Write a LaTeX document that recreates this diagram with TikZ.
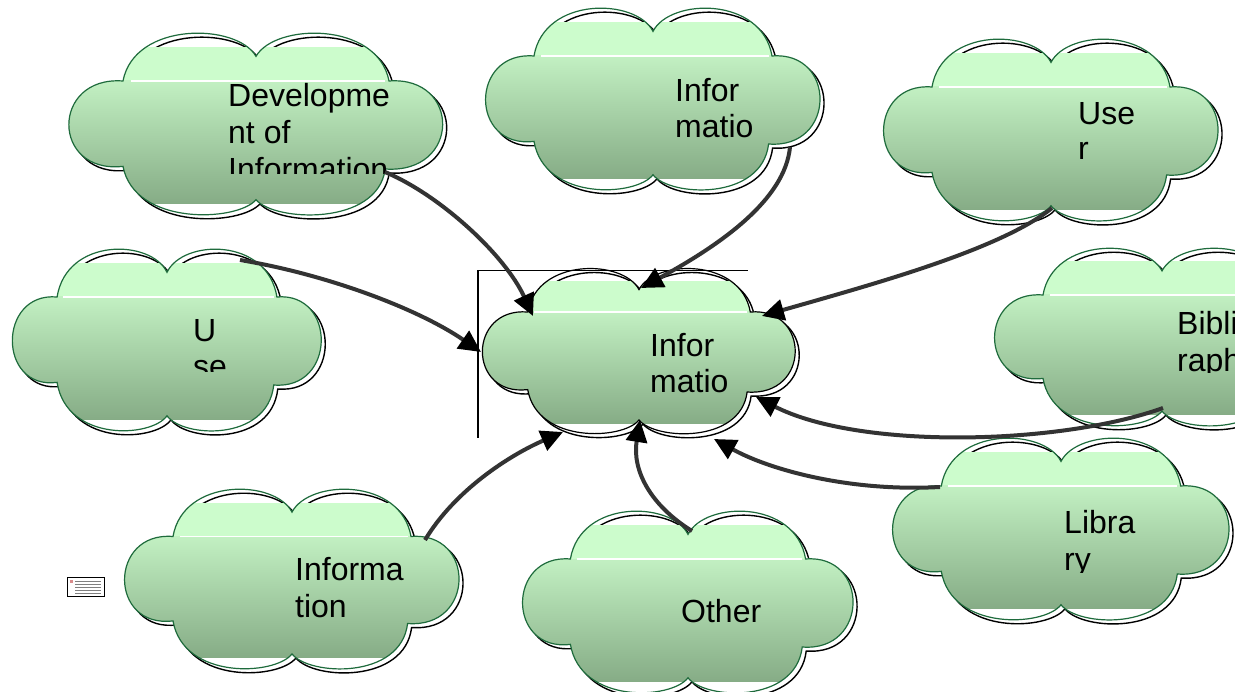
\documentclass[tikz,border=0pt]{standalone}
\usepackage{fontspec}
\setmainfont{Liberation Sans}
\usetikzlibrary{arrows.meta}
\definecolor{cgreen}{HTML}{1E6B3C}
\definecolor{ctop}{HTML}{CCFCCC}
\definecolor{cgtop}{HTML}{C2F0C2}
\definecolor{cgbot}{HTML}{86AC86}
\definecolor{agray}{HTML}{333333}
\newcommand\cloudpath{(0,-0.78) .. controls (0.1,-1.16) and (0.64,-1.18) .. (0.7,-0.5) .. controls (1.08,-0.56) and (1.08,0.56) .. (0.68,0.5) .. controls (0.64,1.15) and (0.1,1.1) .. (0,0.85) .. controls (-0.1,1.1) and (-0.64,1.15) .. (-0.7,0.47) .. controls (-1.08,0.56) and (-1.08,-0.56) .. (-0.7,-0.5) .. controls (-0.64,-1.18) and (-0.1,-1.16) .. (0,-0.78) -- cycle}
\newcommand\mkcloud[6]{%
  \coordinate (#1) at (#2,#3);
  \begin{scope}[shift={(#2+4,#3+4)},xscale=#4,yscale=#5]
    \draw[shadowline] \cloudpath;
  \end{scope}
  \begin{scope}[shift={(#2,#3)},xscale=#4,yscale=#5]
    \begin{scope}
      \clip \cloudpath;
      \fill[ctop] (-1.2,-0.89) rectangle (1.2,-0.5);
      \shade[top color=cgtop,bottom color=cgbot] (-1.2,-0.5) rectangle (1.2,0.89);
    \end{scope}
    \draw[white,line width=1.5pt] (-0.66,-0.5) -- (0.68,-0.5);
    \draw[cloudline,draw=#6] \cloudpath;
  \end{scope}}
\tikzset{
  shadowline/.style={black,line width=1.4pt},
  cloudline/.style={line width=1.2pt},
  lbl/.style={anchor=base west,inner sep=0pt,font=\fontsize{32}{37}\selectfont},
  conn/.style={draw=agray,line width=4pt,-{Triangle[length=22pt,width=21pt,color=black]}}
}
\begin{document}
\begin{tikzpicture}[x=1pt,y=-1pt]
\useasboundingbox (0,0) rectangle (1235,692);
\clip (0,0) rectangle (1235,692);
\fill[white] (0,0) rectangle (1235,692);

% clouds
\mkcloud{dev}{256}{125}{190}{88}{cgreen}
\mkcloud{topinfo}{653}{100}{170}{88}{cgreen}
\mkcloud{user}{1051}{131}{170}{88}{cgreen}
\mkcloud{use}{167}{341}{157}{88}{cgreen}
\mkcloud{bibli}{1162}{338}{170}{86}{cgreen}
\mkcloud{binfo}{292}{580}{170}{87}{cgreen}
\mkcloud{other}{688}{603}{168}{88}{cgreen}
\mkcloud{library}{1061}{530}{171}{88}{cgreen}
\mkcloud{center}{639}{352}{159}{80}{black}

% odd frame lines near the centre cloud
\coordinate (fa) at (478,438);
\coordinate (fb) at (478,270);
\coordinate (fc) at (748,270);
\draw[black,line width=0.8pt] (fb) -- (fc);
\draw[black,line width=2.5pt] (fa) -- (fb);

% small icon
\node[draw=black,line width=1pt,fill=white,minimum width=37pt,minimum height=19pt,inner sep=0pt] (icon) at (85.5,586.5) {};
\fill[red!50!gray!60] (70,580) rectangle (73,583);
\foreach \yy in {581,584,587,590,593}{\draw[gray,line width=0.4pt] (75,\yy) -- (101,\yy);}

% labels
\node[lbl] (t1a) at (228,107) {Developme};
\node[lbl] (t1b) at (228,144) {nt of};
\begin{scope}\clip (200,150) rectangle (420,174);
\node[lbl] (t1c) at (228,181) {Information};
\end{scope}
\node[lbl] (t2a) at (675,102) {Infor};
\node[lbl] (t2b) at (675,138) {matio};
\node[lbl] (t3a) at (1078,125) {Use};
\node[lbl] (t3b) at (1078,160) {r};
\node[lbl] (t4a) at (193,342) {U};
\begin{scope}\clip (180,345) rectangle (300,372);
\node[lbl] (t4b) at (193,378) {se};
\end{scope}
\node[lbl] (t5a) at (650,357) {Infor};
\node[lbl] (t5b) at (650,393) {matio};
\node[lbl] (t6a) at (1177,335) {Bibli};
\begin{scope}\clip (1160,340) rectangle (1235,373);
\node[lbl] (t6b) at (1177,372) {raph};
\end{scope}
\node[lbl] (t7a) at (295,580) {Informa};
\node[lbl] (t7b) at (295,617) {tion};
\node[lbl] (t8) at (681,622) {Other};
\node[lbl] (t9a) at (1064,533) {Libra};
\begin{scope}\clip (1050,540) rectangle (1200,572);
\node[lbl] (t9b) at (1064,570) {ry};
\end{scope}

% connector end points
\coordinate (s1) at (385,172);  \coordinate (e1) at (533,316);
\coordinate (s2) at (790,147);  \coordinate (e2) at (641,288);
\coordinate (s3) at (1052,208); \coordinate (e3) at (762,316);
\coordinate (s4) at (240,260);  \coordinate (e4) at (481,352);
\coordinate (s5) at (1163,408); \coordinate (e5) at (756,397);
\coordinate (s6) at (940,487);  \coordinate (e6) at (714,439);
\coordinate (s7) at (692,531);  \coordinate (e7) at (640,420);
\coordinate (s8) at (425,540);  \coordinate (e8) at (563,432);

\draw[conn] (s1) .. controls (440,195) and (505,255) .. (e1);
\draw[conn] (s2) .. controls (785,200) and (720,245) .. (e2);
\draw[conn] (s3) .. controls (1000,250) and (870,285) .. (e3);
\draw[conn] (s4) .. controls (330,275) and (420,310) .. (e4);
\draw[conn] (s5) .. controls (1060,445) and (860,450) .. (e5);
\draw[conn] (s6) .. controls (850,492) and (770,470) .. (e6);
\draw[conn] (s7) .. controls (650,505) and (632,470) .. (e7);
\draw[conn] (s8) .. controls (455,490) and (510,455) .. (e8);
\end{tikzpicture}
\end{document}
